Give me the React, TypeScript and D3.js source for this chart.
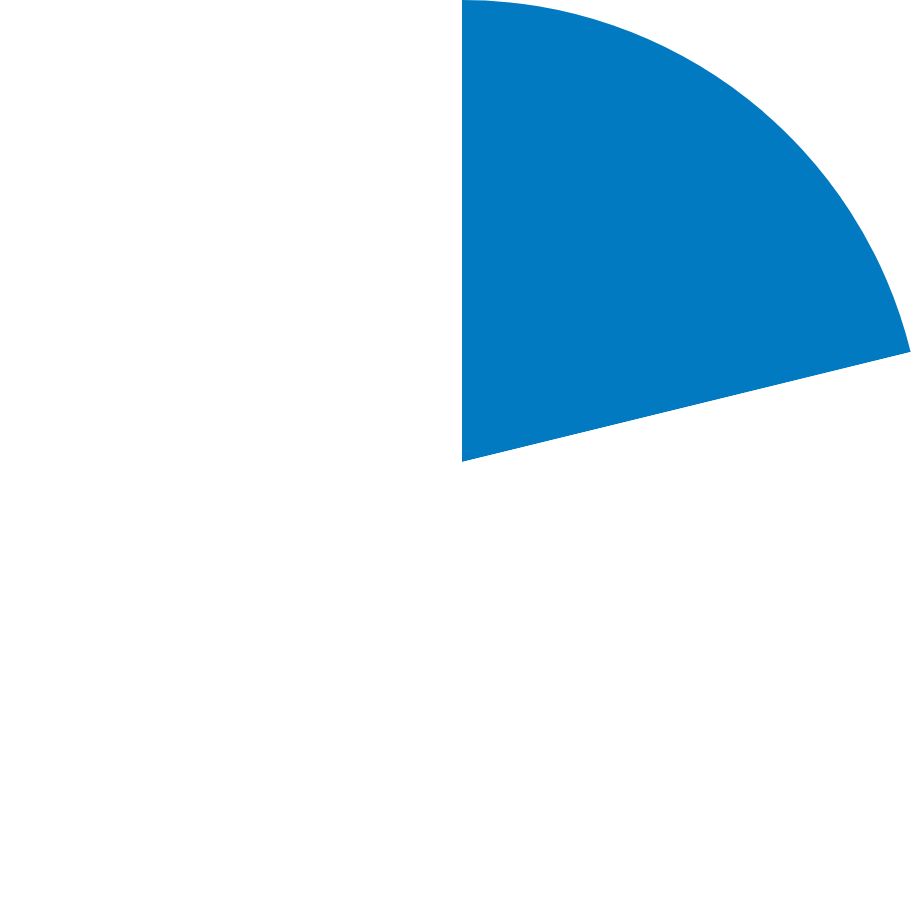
import { useEffect, useRef } from "react";
import * as d3 from "d3";

const categories: string[] = ["Share", "Rest"];
const values: number[] = [21.17, 78.83];
const colors: string[] = ["#027ac2", "#ffffff"];

const size = 924;

const App = () => {
  const ref = useRef<SVGSVGElement | null>(null);

  useEffect(() => {
    document.body.style.margin = "0";
    const svg = d3.select(ref.current);
    svg.selectAll("*").remove();

    const radius = size / 2;
    const g = svg
      .append("g")
      .attr("transform", `translate(${radius},${radius})`);

    const pie = d3
      .pie<number>()
      .sort(null)
      .value((d) => d);

    const arc = d3
      .arc<d3.PieArcDatum<number>>()
      .innerRadius(0)
      .outerRadius(radius);

    g.selectAll("path")
      .data(pie(values))
      .enter()
      .append("path")
      .attr("d", arc)
      .attr("fill", (_, i) => colors[i])
      .append("title")
      .text((_, i) => categories[i]);
  }, []);

  return (
    <svg
      ref={ref}
      width={size}
      height={size}
      style={{ display: "block", background: "#ffffff" }}
    />
  );
};

export default App;
